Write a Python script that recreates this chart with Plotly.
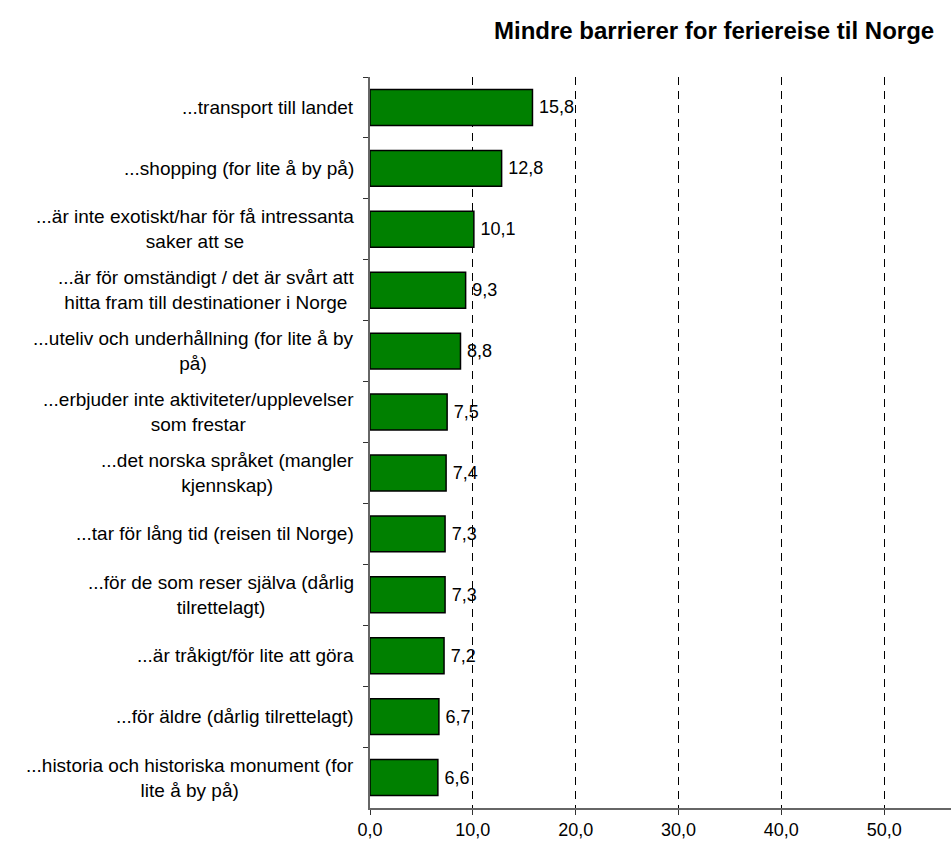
import plotly.graph_objects as go

# Barrier statements (top to bottom) and share of respondents, in percent
categories = [
    "...transport till landet",
    "...shopping (for lite å by på)",
    "...är inte exotiskt/har för få intressanta<br>saker att se",
    "...är för omständigt / det är svårt att<br>hitta fram till destinationer i Norge",
    "...uteliv och underhållning (for lite å by<br>på)",
    "...erbjuder inte aktiviteter/upplevelser<br>som frestar",
    "...det norska språket (mangler<br>kjennskap)",
    "...tar för lång tid (reisen til Norge)",
    "...för de som reser själva (dårlig<br>tilrettelagt)",
    "...är tråkigt/för lite att göra",
    "...för äldre (dårlig tilrettelagt)",
    "...historia och historiska monument (for<br>lite å by på)",
]
values = [15.8, 12.8, 10.1, 9.3, 8.8, 7.5, 7.4, 7.3, 7.3, 7.2, 6.7, 6.6]
x_ticks = [0, 10, 20, 30, 40, 50]
title = "Mindre barrierer for feriereise til Norge"

FONT = "Liberation Sans, Arial, sans-serif"
W, H = 951, 847
PLOT_L, PLOT_T, PLOT_B = 370, 77, 808
keys = [f"c{i}" for i in range(len(categories))]

fig = go.Figure(
    go.Bar(
        x=values,
        y=keys,
        orientation="h",
        marker=dict(color="#008000", line=dict(color="#000000", width=1.5)),
        texttemplate="\u2009%{x:.1f}",
        textposition="outside",
        textfont=dict(family=FONT, size=18, color="#000000"),
        cliponaxis=False,
        hoverinfo="skip",
    )
)

# Category labels, centred line by line to the left of the axis
for key, label in zip(keys, categories):
    fig.add_annotation(
        x=0, xref="paper", y=key, yref="y",
        text=label, showarrow=False,
        xanchor="right", yanchor="middle", align="center",
        xshift=-14,
        font=dict(family=FONT, size=19, color="#000000"),
    )

# Bold title, right-aligned above the plot
plot_w = W - PLOT_L
plot_h = PLOT_B - PLOT_T
fig.add_annotation(
    x=(936 - PLOT_L) / plot_w, xref="paper",
    y=1 + (PLOT_T - 30) / plot_h, yref="paper",
    text=f"<b>{title}</b>", showarrow=False,
    xanchor="right", yanchor="middle",
    font=dict(family=FONT, size=24, color="#000000"),
)

fig.update_layout(
    width=W,
    height=H,
    margin=dict(l=PLOT_L, r=0, t=PLOT_T, b=H - PLOT_B),
    paper_bgcolor="white",
    plot_bgcolor="white",
    separators=", ",
    bargap=0.41,
    showlegend=False,
    font=dict(family=FONT, size=18, color="#000000"),
)

fig.update_xaxes(
    range=[0, 56.5],
    tickvals=x_ticks,
    tickformat=".1f",
    ticks="outside",
    ticklen=5,
    tickcolor="#333333",
    showline=True,
    linecolor="#666666",
    linewidth=1.5,
    showgrid=True,
    gridcolor="#000000",
    gridwidth=1,
    griddash="8px,6px",
    zeroline=False,
    tickfont=dict(family=FONT, size=18, color="#000000"),
    fixedrange=True,
)

fig.update_yaxes(
    categoryorder="array",
    categoryarray=keys,
    autorange="reversed",
    showticklabels=False,
    ticks="outside",
    tickson="boundaries",
    ticklen=5,
    tickcolor="#333333",
    showline=True,
    linecolor="#666666",
    linewidth=1.5,
    showgrid=False,
    zeroline=False,
    fixedrange=True,
)

fig.write_html("out.html")
